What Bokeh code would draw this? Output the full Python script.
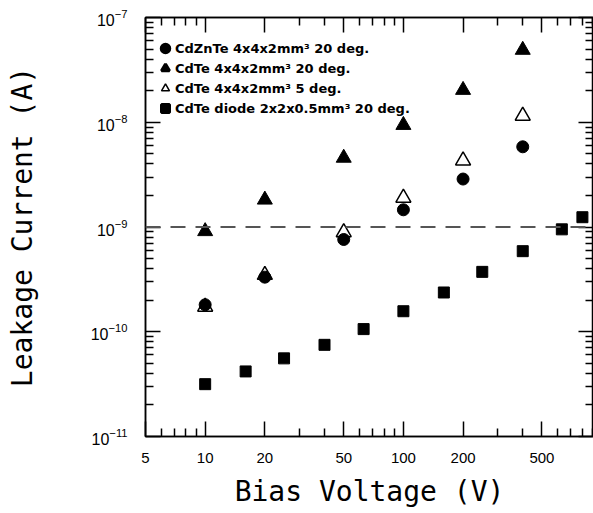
from bokeh.plotting import figure
from bokeh.models import (Range1d, LogAxis, FixedTicker, PrintfTickFormatter, LogTickFormatter,
                          CustomJSTickFormatter, Span, Legend, LegendItem)
from bokeh.embed import file_html
from bokeh.resources import INLINE

# ---- data ----
x_czt = [10, 20, 50, 100, 200, 400]
y_czt = [1.81e-10, 3.32e-10, 7.6e-10, 1.46e-9, 2.87e-9, 5.83e-9]

x_cdte20 = [10, 20, 50, 100, 200, 400]
y_cdte20 = [9.1e-10, 1.82e-9, 4.57e-9, 9.4e-9, 2.03e-8, 4.9e-8]

x_cdte5 = [10, 20, 50, 100, 200, 400]
y_cdte5 = [1.73e-10, 3.48e-10, 8.9e-10, 1.9e-9, 4.3e-9, 1.15e-8]

x_diode = [10, 16, 25, 40, 63, 100, 160, 250, 400, 630, 800]
y_diode = [3.16e-11, 4.18e-11, 5.57e-11, 7.5e-11, 1.06e-10, 1.57e-10, 2.37e-10,
           3.73e-10, 5.88e-10, 9.5e-10, 1.24e-9]

labels = ["CdZnTe 4x4x2mm\u00b3 20 deg.",
          "CdTe 4x4x2mm\u00b3 20 deg.",
          "CdTe 4x4x2mm\u00b3 5 deg.",
          "CdTe diode 2x2x0.5mm\u00b3 20 deg."]

x_major = [5, 10, 20, 50, 100, 200, 500]
x_minor = [6, 7, 8, 9, 30, 40, 60, 70, 80, 90, 300, 400, 600, 700, 800, 900]
y_major = [1e-11, 1e-10, 1e-9, 1e-8, 1e-7]
y_minor = [k * 10.0 ** e for e in range(-11, -7) for k in range(2, 10)]
threshold = 1e-9

TICK_FONT = "Liberation Sans"
LABEL_FONT = "DejaVu Sans Mono"

p = figure(width=593, height=510, x_axis_type="log", y_axis_type="log",
           x_range=Range1d(5, 910), y_range=Range1d(1e-11, 1e-7),
           output_backend="svg", toolbar_location=None, min_border=0,
           min_border_left=145, min_border_top=17, min_border_bottom=68)
p.xgrid.visible = False
p.ygrid.visible = False
p.outline_line_color = "black"
p.outline_line_width = 1.5

xt = FixedTicker(ticks=x_major, minor_ticks=x_minor)
yt = FixedTicker(ticks=y_major, minor_ticks=y_minor)

def style(ax):
    ax.axis_line_width = 1.5
    ax.major_tick_line_width = 1.5
    ax.minor_tick_line_width = 1.5
    ax.major_tick_in = 15
    ax.major_tick_out = 0
    ax.minor_tick_in = 8
    ax.minor_tick_out = 0
    ax.major_label_text_color = "black"
    ax.axis_label_text_color = "black"

xa = p.xaxis[0]
xa.ticker = xt
xa.formatter = PrintfTickFormatter(format="%d")
xa.axis_label = "Bias Voltage (V)"
xa.axis_label_text_font = LABEL_FONT
xa.axis_label_text_font_size = "28px"
xa.axis_label_text_font_style = "normal"
xa.axis_label_standoff = 9
xa.major_label_text_font = TICK_FONT
xa.major_label_text_font_size = "15px"
xa.major_label_standoff = 16
style(xa)

ya = p.yaxis[0]
ya.ticker = yt
ya.formatter = LogTickFormatter()
ya.axis_label = "Leakage Current (A)"
ya.axis_label_text_font = LABEL_FONT
ya.axis_label_text_font_size = "28px"
ya.axis_label_text_font_style = "normal"
ya.axis_label_standoff = 49
ya.major_label_text_font = TICK_FONT
ya.major_label_text_font_size = "16px"
ya.major_label_standoff = 18
style(ya)

blank = CustomJSTickFormatter(code="return ''")
top = LogAxis(ticker=xt, formatter=blank, major_label_text_font_size="1px",
              major_label_standoff=0)
style(top)
top.major_label_text_color = None
p.add_layout(top, "above")
right = LogAxis(ticker=yt, formatter=blank, major_label_text_font_size="1px",
                major_label_standoff=0)
style(right)
right.major_label_text_color = None
p.add_layout(right, "right")

p.add_layout(Span(location=threshold, dimension="width", line_color="#555555",
                  line_width=2, line_dash="15 10"))

r_open = p.scatter(x_cdte5, y_cdte5, marker="triangle", size=15, fill_color="white",
                   line_color="black", line_width=1.5)
r_czt = p.scatter(x_czt, y_czt, marker="circle", size=12, fill_color="black", line_color="black")
r_c20 = p.scatter(x_cdte20, y_cdte20, marker="triangle", size=15, fill_color="black",
                  line_color="black")
r_dio = p.scatter(x_diode, y_diode, marker="square", size=11, fill_color="black",
                  line_color="black")

# hidden key renderers (same data) with heavier outlines so the legend keys read larger
k_czt = p.scatter(x_czt, y_czt, marker="circle", fill_color="black", line_color="black",
                  line_width=3.5, visible=False)
k_c20 = p.scatter(x_cdte20, y_cdte20, marker="triangle", fill_color="black",
                  line_color="black", line_width=3, visible=False)
k_open = p.scatter(x_cdte5, y_cdte5, marker="triangle", fill_color="white",
                   line_color="black", line_width=1.5, visible=False)
k_dio = p.scatter(x_diode, y_diode, marker="square", fill_color="black", line_color="black",
                  line_width=3, visible=False)

legend = Legend(items=[LegendItem(label=labels[0], renderers=[k_czt]),
                       LegendItem(label=labels[1], renderers=[k_c20]),
                       LegendItem(label=labels[2], renderers=[k_open]),
                       LegendItem(label=labels[3], renderers=[k_dio])],
                location=(10, 318), padding=0, margin=0, spacing=0,
                glyph_width=20, glyph_height=20, label_height=20, label_standoff=0,
                label_text_font="DejaVu Sans", label_text_font_style="bold",
                label_text_font_size="13px", label_text_color="black",
                border_line_alpha=0, background_fill_alpha=0, click_policy="none")
p.add_layout(legend, "center")

open("out.html", "w").write(file_html(p, INLINE))
